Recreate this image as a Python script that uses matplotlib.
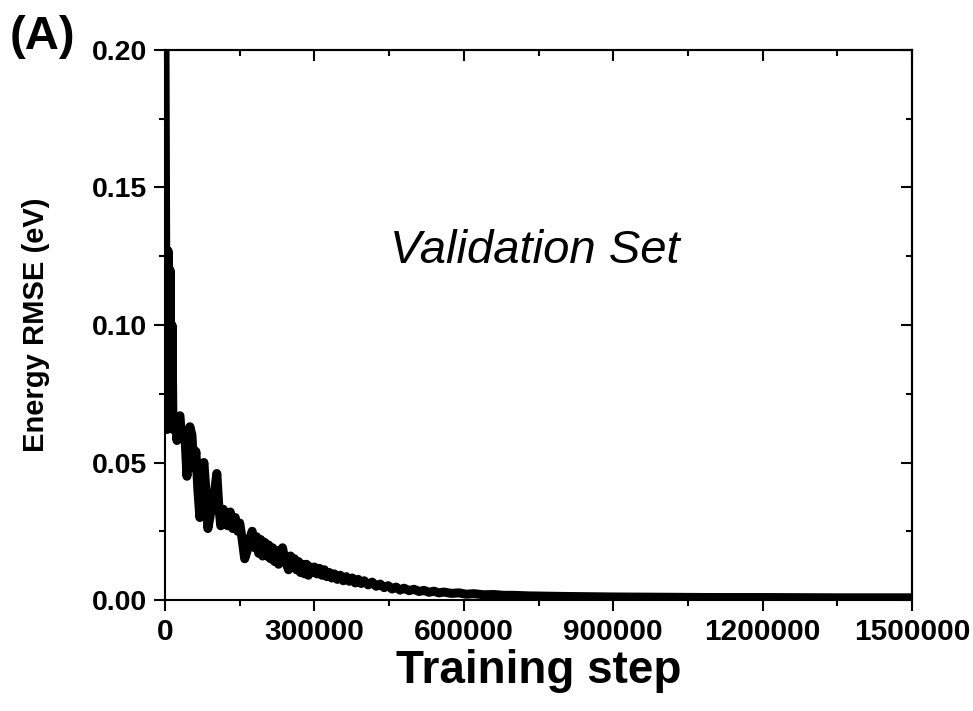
import numpy as np
import matplotlib
matplotlib.use("Agg")
import matplotlib.pyplot as plt
from matplotlib.ticker import MultipleLocator, FormatStrFormatter

plt.rcParams['font.family'] = ['Liberation Sans', 'DejaVu Sans']

# training step vs validation energy RMSE (eV)
steps = [0, 2000, 4000, 6000, 8000, 10000, 12000, 14000, 16000, 20000, 24000, 27000,
         30000, 33000, 36000, 40000, 44000, 47000, 50000, 54000, 58000, 62000,
         66000, 70000, 74000, 78000, 82000, 86000, 90000, 95000, 100000, 104000,
         108000, 112000, 117000, 121000, 126000, 131000, 136000, 141000, 146000, 150000,
         155000, 160000, 165000, 170000, 175000, 180000, 184000, 188000, 192000, 196000,
         200000, 204000, 208000, 212000, 216000, 220000, 224000, 228000, 232000, 236000,
         240000, 244000, 248000, 252000, 256000, 260000, 264000, 268000, 272000, 276000,
         280000, 284000, 288000, 292000, 296000, 300000, 305000, 310000, 315000, 320000,
         325000, 330000, 335000, 340000, 346000, 352000, 358000, 364000, 370000, 376000,
         382000, 388000, 394000, 400000, 408000, 416000, 424000, 432000, 440000, 448000,
         456000, 464000, 472000, 480000, 490000, 500000, 510000, 520000, 530000, 540000,
         550000, 560000, 575000, 590000, 605000, 620000, 640000, 660000, 680000, 700000,
         730000, 760000, 800000, 850000, 900000, 1000000, 1100000, 1200000, 1350000, 1500000]
rmse = [0.200, 0.090, 0.062, 0.127, 0.066, 0.120, 0.064, 0.100, 0.062, 0.067, 0.058, 0.066,
        0.067, 0.059, 0.062, 0.060, 0.045, 0.058, 0.063, 0.060, 0.048, 0.054,
        0.040, 0.030, 0.044, 0.050, 0.040, 0.026, 0.030, 0.036, 0.040, 0.046,
        0.034, 0.027, 0.033, 0.031, 0.027, 0.032, 0.026, 0.030, 0.025, 0.028,
        0.022, 0.015, 0.018, 0.022, 0.025, 0.019, 0.023, 0.017, 0.022, 0.016,
        0.021, 0.016, 0.020, 0.015, 0.019, 0.014, 0.018, 0.013, 0.016, 0.019,
        0.015, 0.013, 0.011, 0.016, 0.012, 0.015, 0.011, 0.014, 0.010, 0.013,
        0.0095, 0.013, 0.009, 0.012, 0.010, 0.012, 0.0095, 0.0115, 0.009, 0.011,
        0.0085, 0.010, 0.008, 0.0095, 0.0075, 0.009, 0.007, 0.0085, 0.0068, 0.008,
        0.0062, 0.0075, 0.006, 0.007, 0.0055, 0.0065, 0.0050, 0.0058, 0.0045, 0.0052,
        0.0040, 0.0047, 0.0036, 0.0043, 0.0034, 0.0039, 0.0031, 0.0035, 0.0028, 0.0032,
        0.0026, 0.0029, 0.0024, 0.0026, 0.0021, 0.0023, 0.0019, 0.0020, 0.0017, 0.0017,
        0.0015, 0.0014, 0.0013, 0.0012, 0.0011, 0.0010, 0.0009, 0.0009, 0.0008, 0.0008]

fig = plt.figure(figsize=(9.73, 7.11), dpi=100)
ax = fig.add_axes([0.1696, 0.1561, 0.7677, 0.7736])

ax.plot(steps, rmse, color='black', lw=6.5, solid_joinstyle='round', solid_capstyle='round')

ax.set_xlim(0, 1500000)
ax.set_ylim(0, 0.20)
ax.xaxis.set_major_locator(MultipleLocator(300000))
ax.xaxis.set_minor_locator(MultipleLocator(150000))
ax.xaxis.set_major_formatter(FormatStrFormatter('%d'))
ax.yaxis.set_major_locator(MultipleLocator(0.05))
ax.yaxis.set_minor_locator(MultipleLocator(0.025))
ax.yaxis.set_major_formatter(FormatStrFormatter('%.2f'))

for sp in ax.spines.values():
    sp.set_linewidth(1.5)

ax.tick_params(which='major', direction='out', length=8, width=1.5, pad=5)
ax.tick_params(axis='x', labelsize=21.5)
ax.tick_params(axis='y', labelsize=20.5)
ax.tick_params(which='minor', direction='out', length=4.5, width=1.5)
for lab in ax.get_xticklabels() + ax.get_yticklabels():
    lab.set_fontweight('bold')

# inward ticks on top and right
top = ax.secondary_xaxis('top')
top.xaxis.set_major_locator(MultipleLocator(300000))
top.xaxis.set_minor_locator(MultipleLocator(150000))
top.tick_params(which='major', direction='in', length=8, width=1.5, labeltop=False)
top.tick_params(which='minor', direction='in', length=4.5, width=1.5)
top.spines['top'].set_linewidth(1.5)
right = ax.secondary_yaxis('right')
right.yaxis.set_major_locator(MultipleLocator(0.05))
right.yaxis.set_minor_locator(MultipleLocator(0.025))
right.tick_params(which='major', direction='in', length=8, width=1.5, labelright=False)
right.tick_params(which='minor', direction='in', length=4.5, width=1.5)
right.spines['right'].set_linewidth(1.5)

ax.set_xlabel('Training step', fontsize=33, fontweight='bold', labelpad=2)
ax.set_ylabel('Energy RMSE (eV)', fontsize=21, fontweight='bold', labelpad=30)

ax.text(743000, 0.127, 'Validation Set', fontsize=34, style='italic',
        ha='center', va='center')
fig.text(0.044, 0.948, '(A)', fontsize=34, fontweight='bold', ha='center', va='center')

fig.savefig('out.png', dpi=100)
